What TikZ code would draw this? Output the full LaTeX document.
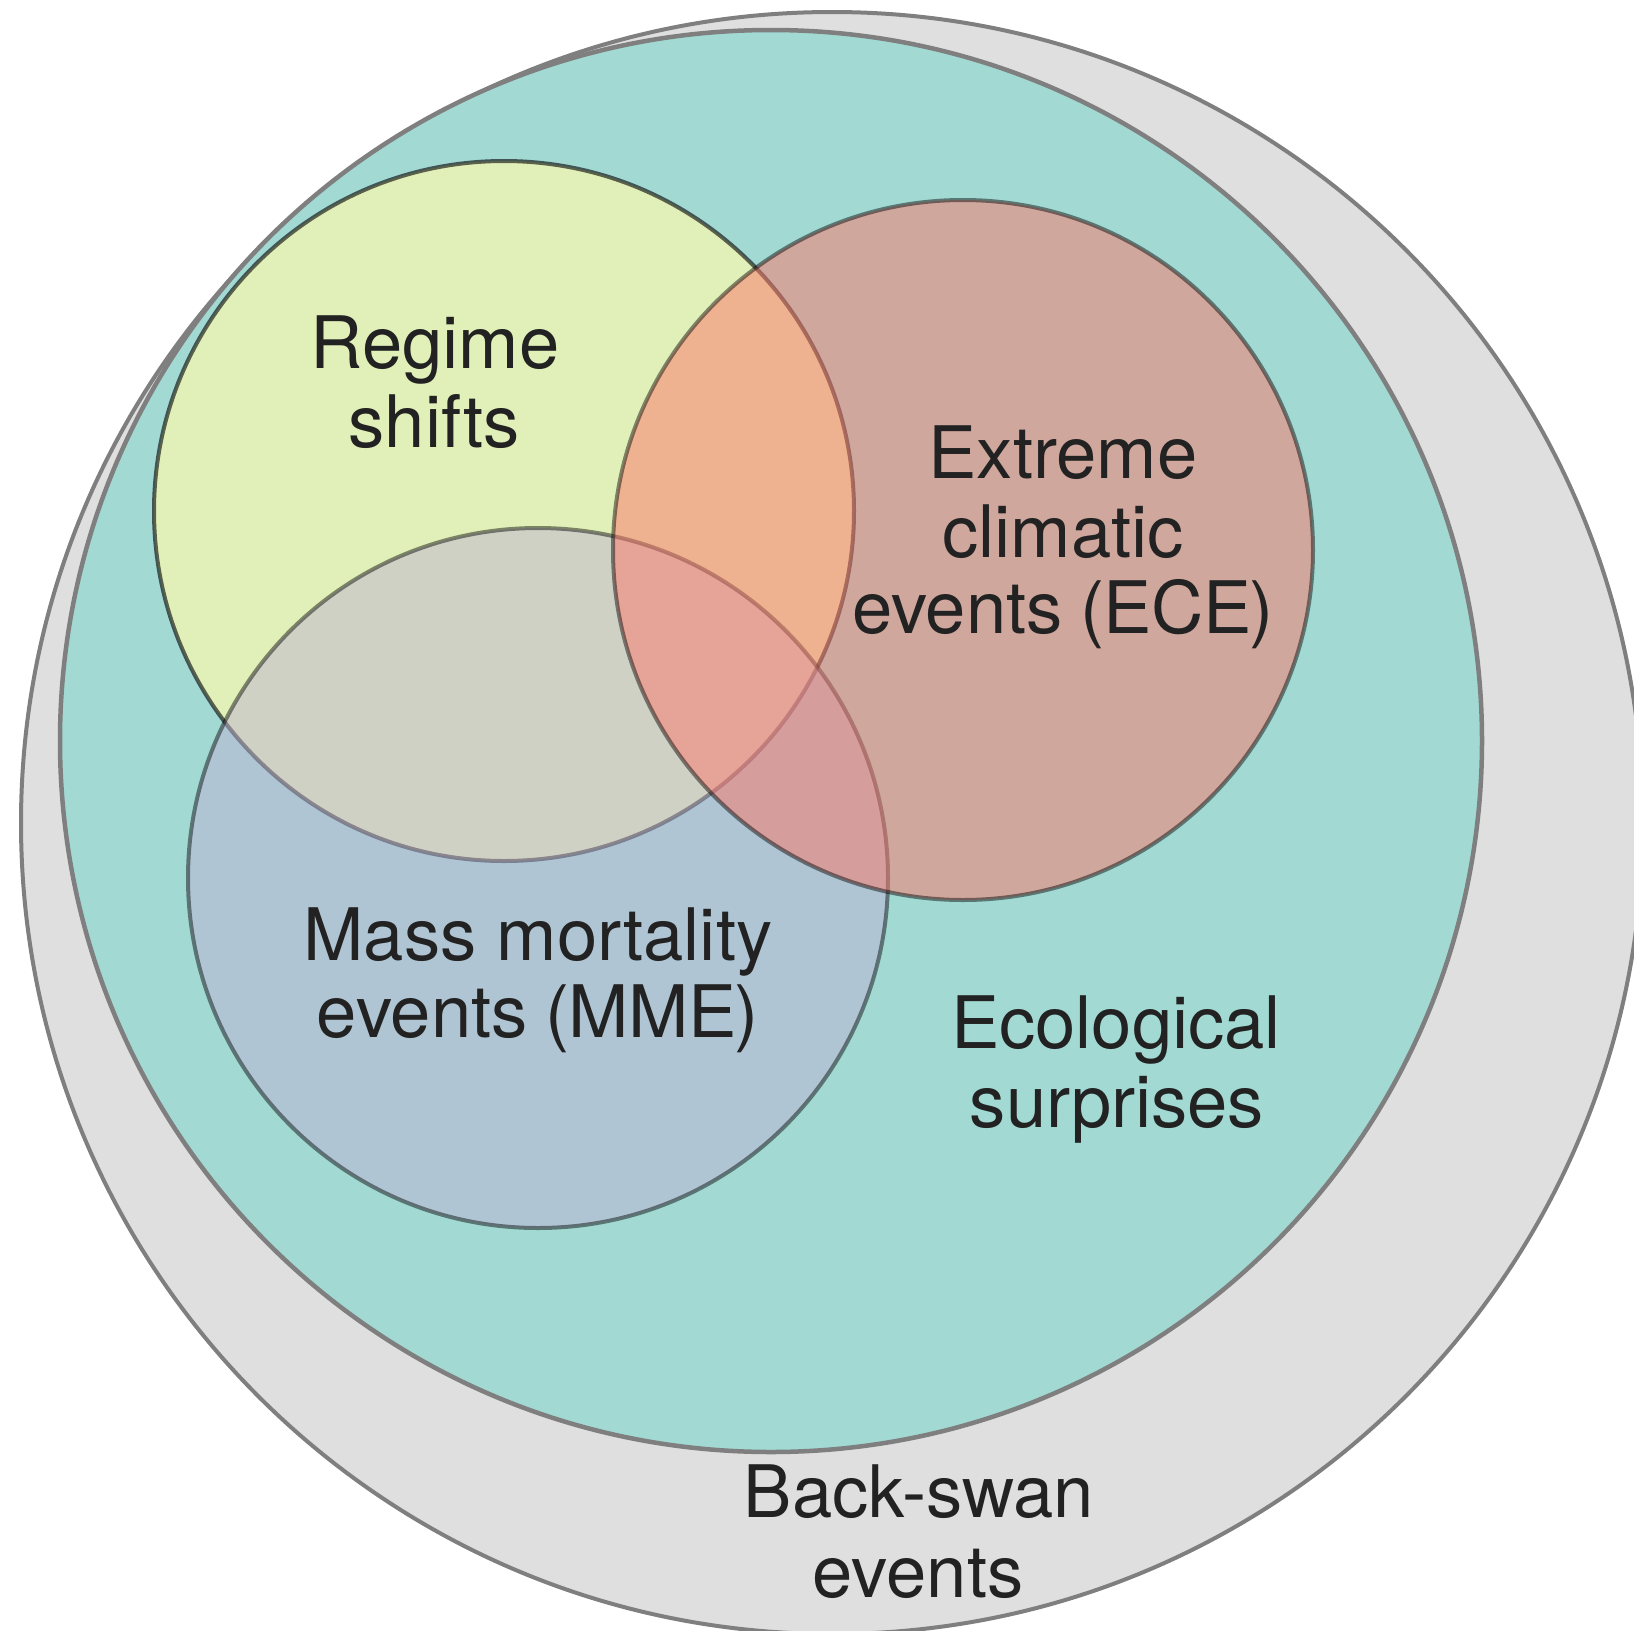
\documentclass[tikz,border=0pt]{standalone}
\usepackage{fontspec}
\setmainfont{TeX Gyre Heros}
\definecolor{grayfill}{HTML}{DFDFDF}
\definecolor{grayline}{HTML}{7F7F7F}
\definecolor{tealfill}{HTML}{A2D9D3}
\definecolor{yellowfill}{HTML}{E1F0B8}
\definecolor{bluefill}{RGB}{191,177,213}
\definecolor{redfill}{RGB}{252,119,107}
\definecolor{txt}{HTML}{222222}
\tikzset{
  outerset/.style={circle, draw=grayline, line width=4pt, fill=grayfill, minimum size=#1, inner sep=0pt},
  tealset/.style={circle, draw=grayline, line width=4.5pt, fill=tealfill, minimum size=#1, inner sep=0pt},
  innerset/.style={circle, draw=black, line width=4pt, minimum size=700pt, inner sep=0pt},
  lbl/.style={anchor=base, inner sep=0pt, text=txt, font=\fontsize{72.4}{79}\selectfont}
}
\begin{document}
\begin{tikzpicture}[x=1pt,y=-1pt]
\useasboundingbox (0,0) rectangle (1634,1631);
\clip (0,0) rectangle (1634,1631);
% sets
\node[outerset=1622pt] (bs) at (832,823) {};
\node[tealset=1422pt] (es) at (771,741) {};
\node[innerset, fill=yellowfill, draw opacity=0.6] (rs) at (504,511) {};
\node[innerset, fill=bluefill, fill opacity=0.48, draw opacity=0.45] (mme) at (538,878) {};
\node[innerset, fill=redfill, fill opacity=0.51, draw opacity=0.45] (ece) at (963,550) {};
% labels
\node[lbl] (rs1) at (435,368) {Regime};
\node[lbl] (rs2) at (434,447) {shifts};
\node[lbl] (ece1) at (1063,478) {Extreme};
\node[lbl] (ece2) at (1063,557) {climatic};
\node[lbl] (ece3) at (1063,633) {events\kern-2pt{} (\kern-2pt{}ECE\kern-2pt{})};
\node[lbl] (mme1) at (538,960) {Mass mortality};
\node[lbl] (mme2) at (538,1037) {events\kern-2pt{} (\kern-2pt{}MME\kern-2pt{})};
\node[lbl] (es1) at (1116,1048) {Ecological};
\node[lbl] (es2) at (1117,1127) {surprises};
\node[lbl] (bs1) at (919,1517) {Back-swan};
\node[lbl] (bs2) at (918,1597) {events};
\end{tikzpicture}
\end{document}
